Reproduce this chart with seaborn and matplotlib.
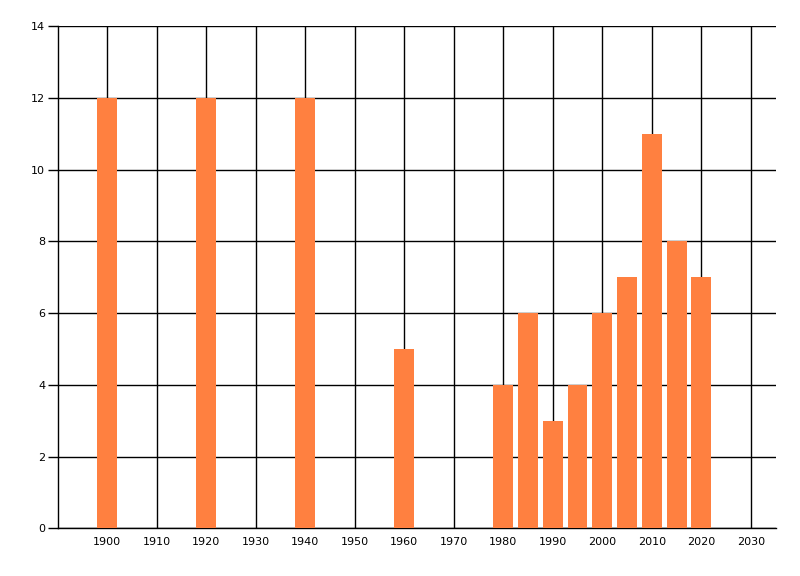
import pandas as pd
import matplotlib
matplotlib.use("Agg")
import matplotlib.pyplot as plt
import seaborn as sns

years = [1900, 1920, 1940, 1960, 1980, 1985, 1990, 1995, 2000, 2005, 2010, 2015, 2020]
counts = [12, 12, 12, 5, 4, 6, 3, 4, 6, 7, 11, 8, 7]

df = pd.DataFrame({"year": years, "count": counts})

sns.set_style("white")
plt.rcParams["font.family"] = ["DejaVu Sans"]

fig = plt.figure(figsize=(8, 5.76), dpi=100)
ax = fig.add_axes([0.072, 0.0828, 0.8976, 0.8721])

sns.barplot(data=df, x="year", y="count", native_scale=True, width=0.8,
            color="#FF8040", saturation=1, edgecolor="none", ax=ax, zorder=3)

ax.set_xlim(1890, 2035)
ax.set_ylim(0, 14)
ax.set_xticks(range(1900, 2031, 10))
ax.set_yticks(range(0, 15, 2))
ax.grid(True, color="black", linewidth=1, zorder=0)
ax.set_axisbelow(True)

for s in ["top", "right"]:
    ax.spines[s].set_visible(False)
for s in ["left", "bottom"]:
    ax.spines[s].set_color("black")
    ax.spines[s].set_linewidth(1)

ax.tick_params(axis="y", length=7, width=1, color="black", labelcolor="black",
               labelsize=8, pad=2, left=True)
ax.tick_params(axis="x", length=0, labelcolor="black", labelsize=8, pad=6)
ax.set_xlabel("")
ax.set_ylabel("")

fig.savefig("out.png", dpi=100)
